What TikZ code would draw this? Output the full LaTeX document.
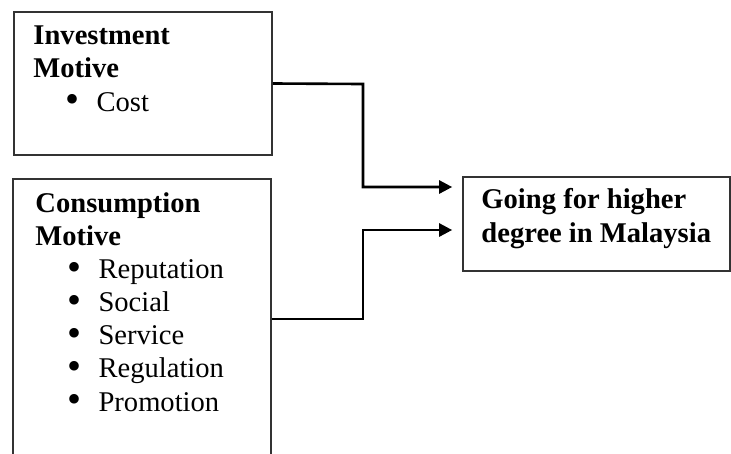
\documentclass[tikz,border=0pt]{standalone}
\usepackage{fontspec}
\setmainfont{Liberation Serif}
\usetikzlibrary{fit,arrows.meta}

\newcommand{\motiveitem}[1]{\hspace*{13.5pt}\makebox[13pt][l]{\raisebox{-0.6pt}{\scalebox{1.4}{\textbullet}}}#1}

\tikzset{
  motivebox/.style={draw=black!80, line width=0.7pt, inner sep=0pt},
  motivetext/.style={anchor=base west, inner sep=0pt, align=left,
    font=\fontsize{12}{13.9}\selectfont},
  link/.style={line width=1.1pt, -{Triangle[length=5.5pt,width=5.5pt]}, shorten >=4.2pt}
}

\begin{document}
\begin{tikzpicture}[x=0.42pt,y=-0.42pt]
\useasboundingbox (0,0) rectangle (731,453);
\clip (0,0) rectangle (731,453);

% boxes
\node[motivebox, fit={(14,12) (272,155)}] (invest) {};
\node[motivebox, fit={(13,179) (271,490)}] (consume) {};
\node[motivebox, fit={(463,177) (730,271)}] (goal) {};

% texts (placed at the baseline of their last line)
\node[motivetext] (investtxt) at (33,111)
  {\textbf{Investment}\\ \textbf{Motive}\\ \motiveitem{Cost}};
\node[motivetext] (consumetxt) at (35,411)
  {\textbf{Consumption}\\ \textbf{Motive}\\ \motiveitem{Reputation}\\
   \motiveitem{Social}\\ \motiveitem{Service}\\ \motiveitem{Regulation}\\
   \motiveitem{Promotion}};
\node[motivetext] (goaltxt) at (481,242)
  {\textbf{Going for higher}\\ \textbf{degree in Malaysia}};

% connectors
\draw[link] (invest.east) -- (363,84) |- (goal.west |- 0,187);
\draw[link] (consume.east |- 0,319) -- (363,319) |- (goal.west |- 0,230);

\end{tikzpicture}
\end{document}
